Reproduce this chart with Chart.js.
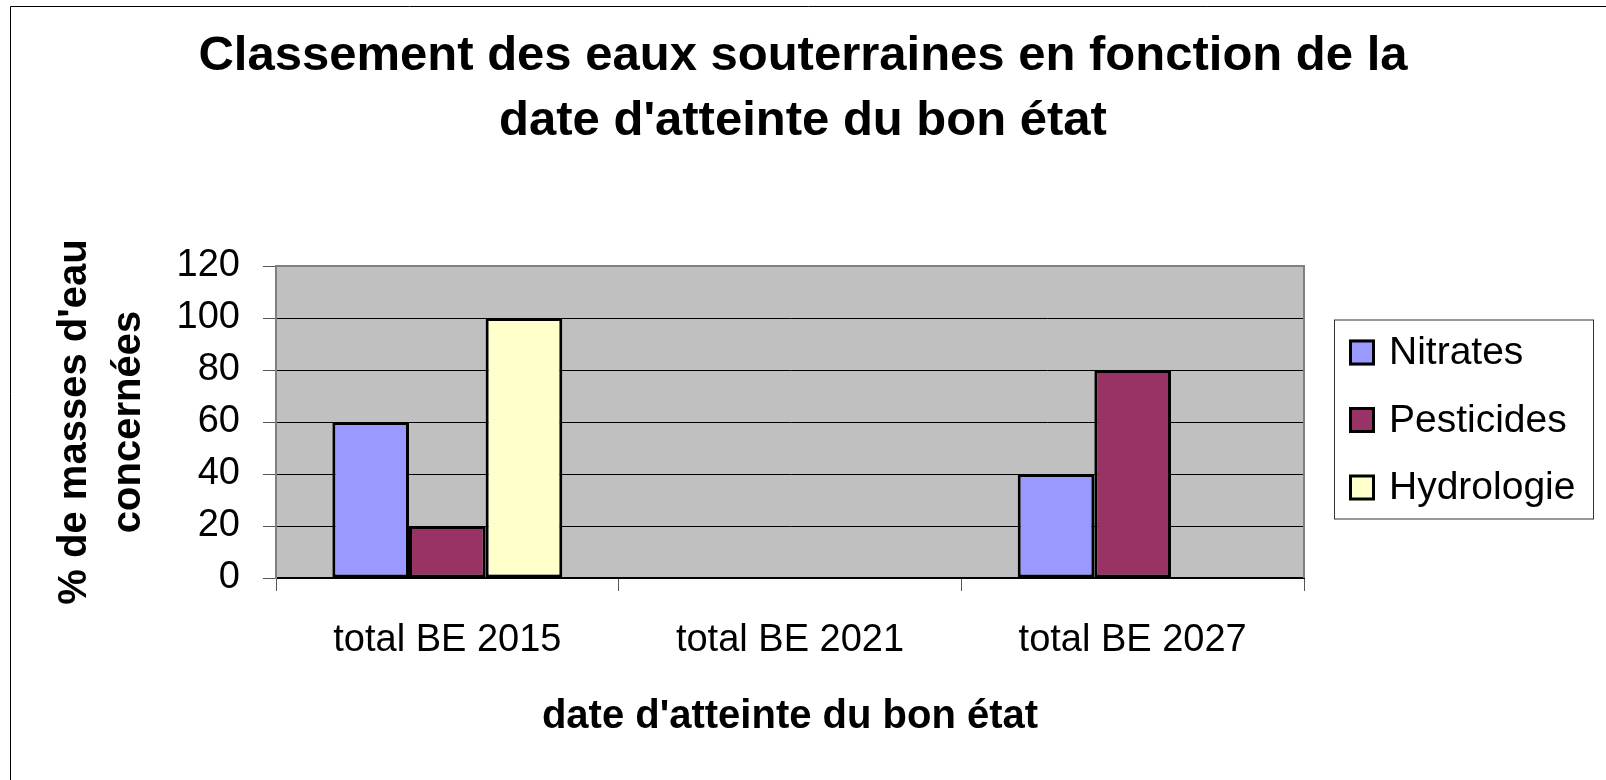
<!DOCTYPE html>
<html>
<head>
<meta charset="utf-8">
<script src="https://cdn.jsdelivr.net/npm/chart.js@4.4.1/dist/chart.umd.min.js"></script>
<style>
  html, body { margin: 0; padding: 0; background: #fff; overflow: hidden; }
  #wrap { position: relative; width: 1606px; height: 780px; }
</style>
</head>
<body>
<div id="wrap"><canvas id="chart"></canvas></div>
<script>
const categories = ["total BE 2015", "total BE 2021", "total BE 2027"];
const nitrates = [60, 0, 40];
const pesticides = [20, 0, 80];
const hydrologie = [100, 0, 0];
const seriesNames = ["Nitrates", "Pesticides", "Hydrologie"];
const titleLines = ["Classement des eaux souterraines en fonction de la", "date d'atteinte du bon état"];
const yTitleLines = ["% de masses d'eau", "concernées"];
const xTitle = "date d'atteinte du bon état";

const FONT = '"Liberation Sans", Arial, sans-serif';
Chart.defaults.font.family = FONT;
Chart.defaults.color = "#000";

// grey plot background + page frame lines (top and left only, like the source)
const backdrop = {
    id: "backdrop",
    beforeDraw(chart) {
        const { ctx, chartArea } = chart;
        ctx.save();
        ctx.fillStyle = "#fff";
        ctx.fillRect(0, 0, chart.width, chart.height);
        ctx.fillStyle = "#C0C0C0";
        ctx.fillRect(chartArea.left, chartArea.top, chartArea.right - chartArea.left, chartArea.bottom - chartArea.top);
        ctx.strokeStyle = "#000";
        ctx.lineWidth = 1;
        ctx.beginPath();
        ctx.moveTo(10.5, chart.height);
        ctx.lineTo(10.5, 6.5);
        ctx.lineTo(chart.width, 6.5);
        ctx.stroke();
        ctx.restore();
    },
    beforeDatasetsDraw(chart) {
        const { ctx, chartArea } = chart;
        ctx.save();
        ctx.strokeStyle = "#808080";
        ctx.lineWidth = 2;
        ctx.beginPath();
        ctx.moveTo(chartArea.left, chartArea.top);
        ctx.lineTo(chartArea.right, chartArea.top);
        ctx.lineTo(chartArea.right, chartArea.bottom);
        ctx.stroke();
        ctx.restore();
    }
};

// boxed legend to the right of the plot
const legendBox = {
    id: "legendBox",
    afterDraw(chart) {
        const { ctx, chartArea } = chart;
        const w = 259, h = 199;
        const x = chartArea.right + 30;
        const y = (chartArea.top + chartArea.bottom) / 2 - h / 2 - 3;
        ctx.save();
        ctx.strokeStyle = "#333";
        ctx.lineWidth = 1;
        ctx.strokeRect(x + 0.5, y + 0.5, w, h);
        ctx.font = "39px " + FONT;
        ctx.textBaseline = "middle";
        chart.data.datasets.forEach((ds, i) => {
            const cy = y + 33 + i * 67.5;
            ctx.fillStyle = ds.backgroundColor;
            ctx.fillRect(x + 15, cy - 13, 26, 26);
            ctx.strokeStyle = "#000";
            ctx.lineWidth = 3;
            ctx.strokeRect(x + 16.5, cy - 11.5, 23, 23);
            ctx.fillStyle = "#000";
            ctx.fillText(ds.label, x + 55, cy + 1);
        });
        ctx.restore();
    }
};

const barStyle = { borderColor: "#000", borderWidth: 3, borderSkipped: false };

new Chart(document.getElementById("chart"), {
    type: "bar",
    data: {
        labels: categories,
        datasets: [
            { label: seriesNames[0], data: nitrates, backgroundColor: "#9999FF", ...barStyle },
            { label: seriesNames[1], data: pesticides, backgroundColor: "#993366", ...barStyle },
            { label: seriesNames[2], data: hydrologie, backgroundColor: "#FFFFCC", ...barStyle }
        ]
    },
    options: {
        responsive: true,
        maintainAspectRatio: false,
        animation: false,
        layout: { padding: 0 },
        datasets: { bar: { categoryPercentage: 0.671, barPercentage: 1 } },
        plugins: {
            legend: { display: false },
            tooltip: { enabled: false },
            title: {
                display: true,
                text: titleLines,
                color: "#000",
                font: { size: 49, weight: "bold", lineHeight: 65 / 49 },
                padding: { top: 24, bottom: 112 }
            }
        },
        scales: {
            x: {
                offset: true,
                grid: { offset: true, drawOnChartArea: false, tickLength: 13, tickColor: "#555", tickWidth: 1 },
                border: { color: "#000", width: 2 },
                ticks: { font: { size: 38 }, color: "#000", padding: 27 },
                title: {
                    display: true,
                    text: xTitle,
                    color: "#000",
                    font: { size: 40, weight: "bold" },
                    padding: { top: 0, bottom: 39 }
                },
                afterFit(scale) { scale.height = 202; }
            },
            y: {
                min: 0,
                max: 120,
                grid: { color: "#000", lineWidth: 1, tickLength: 13, tickColor: "#555" },
                border: { color: "#808080", width: 2 },
                ticks: { stepSize: 20, font: { size: 38 }, color: "#000", padding: 23 },
                title: {
                    display: true,
                    text: yTitleLines,
                    color: "#000",
                    font: { size: 40, weight: "bold", lineHeight: 54 / 40 },
                    padding: { top: 48, bottom: 0 }
                },
                afterFit(scale) { scale.width = 276; }
            },
            legendSpace: {
                type: "linear",
                position: "right",
                display: true,
                grid: { display: false },
                border: { display: false },
                ticks: { display: false },
                afterFit(scale) { scale.width = 302; }
            }
        }
    },
    plugins: [backdrop, legendBox]
});
</script>
</body>
</html>
